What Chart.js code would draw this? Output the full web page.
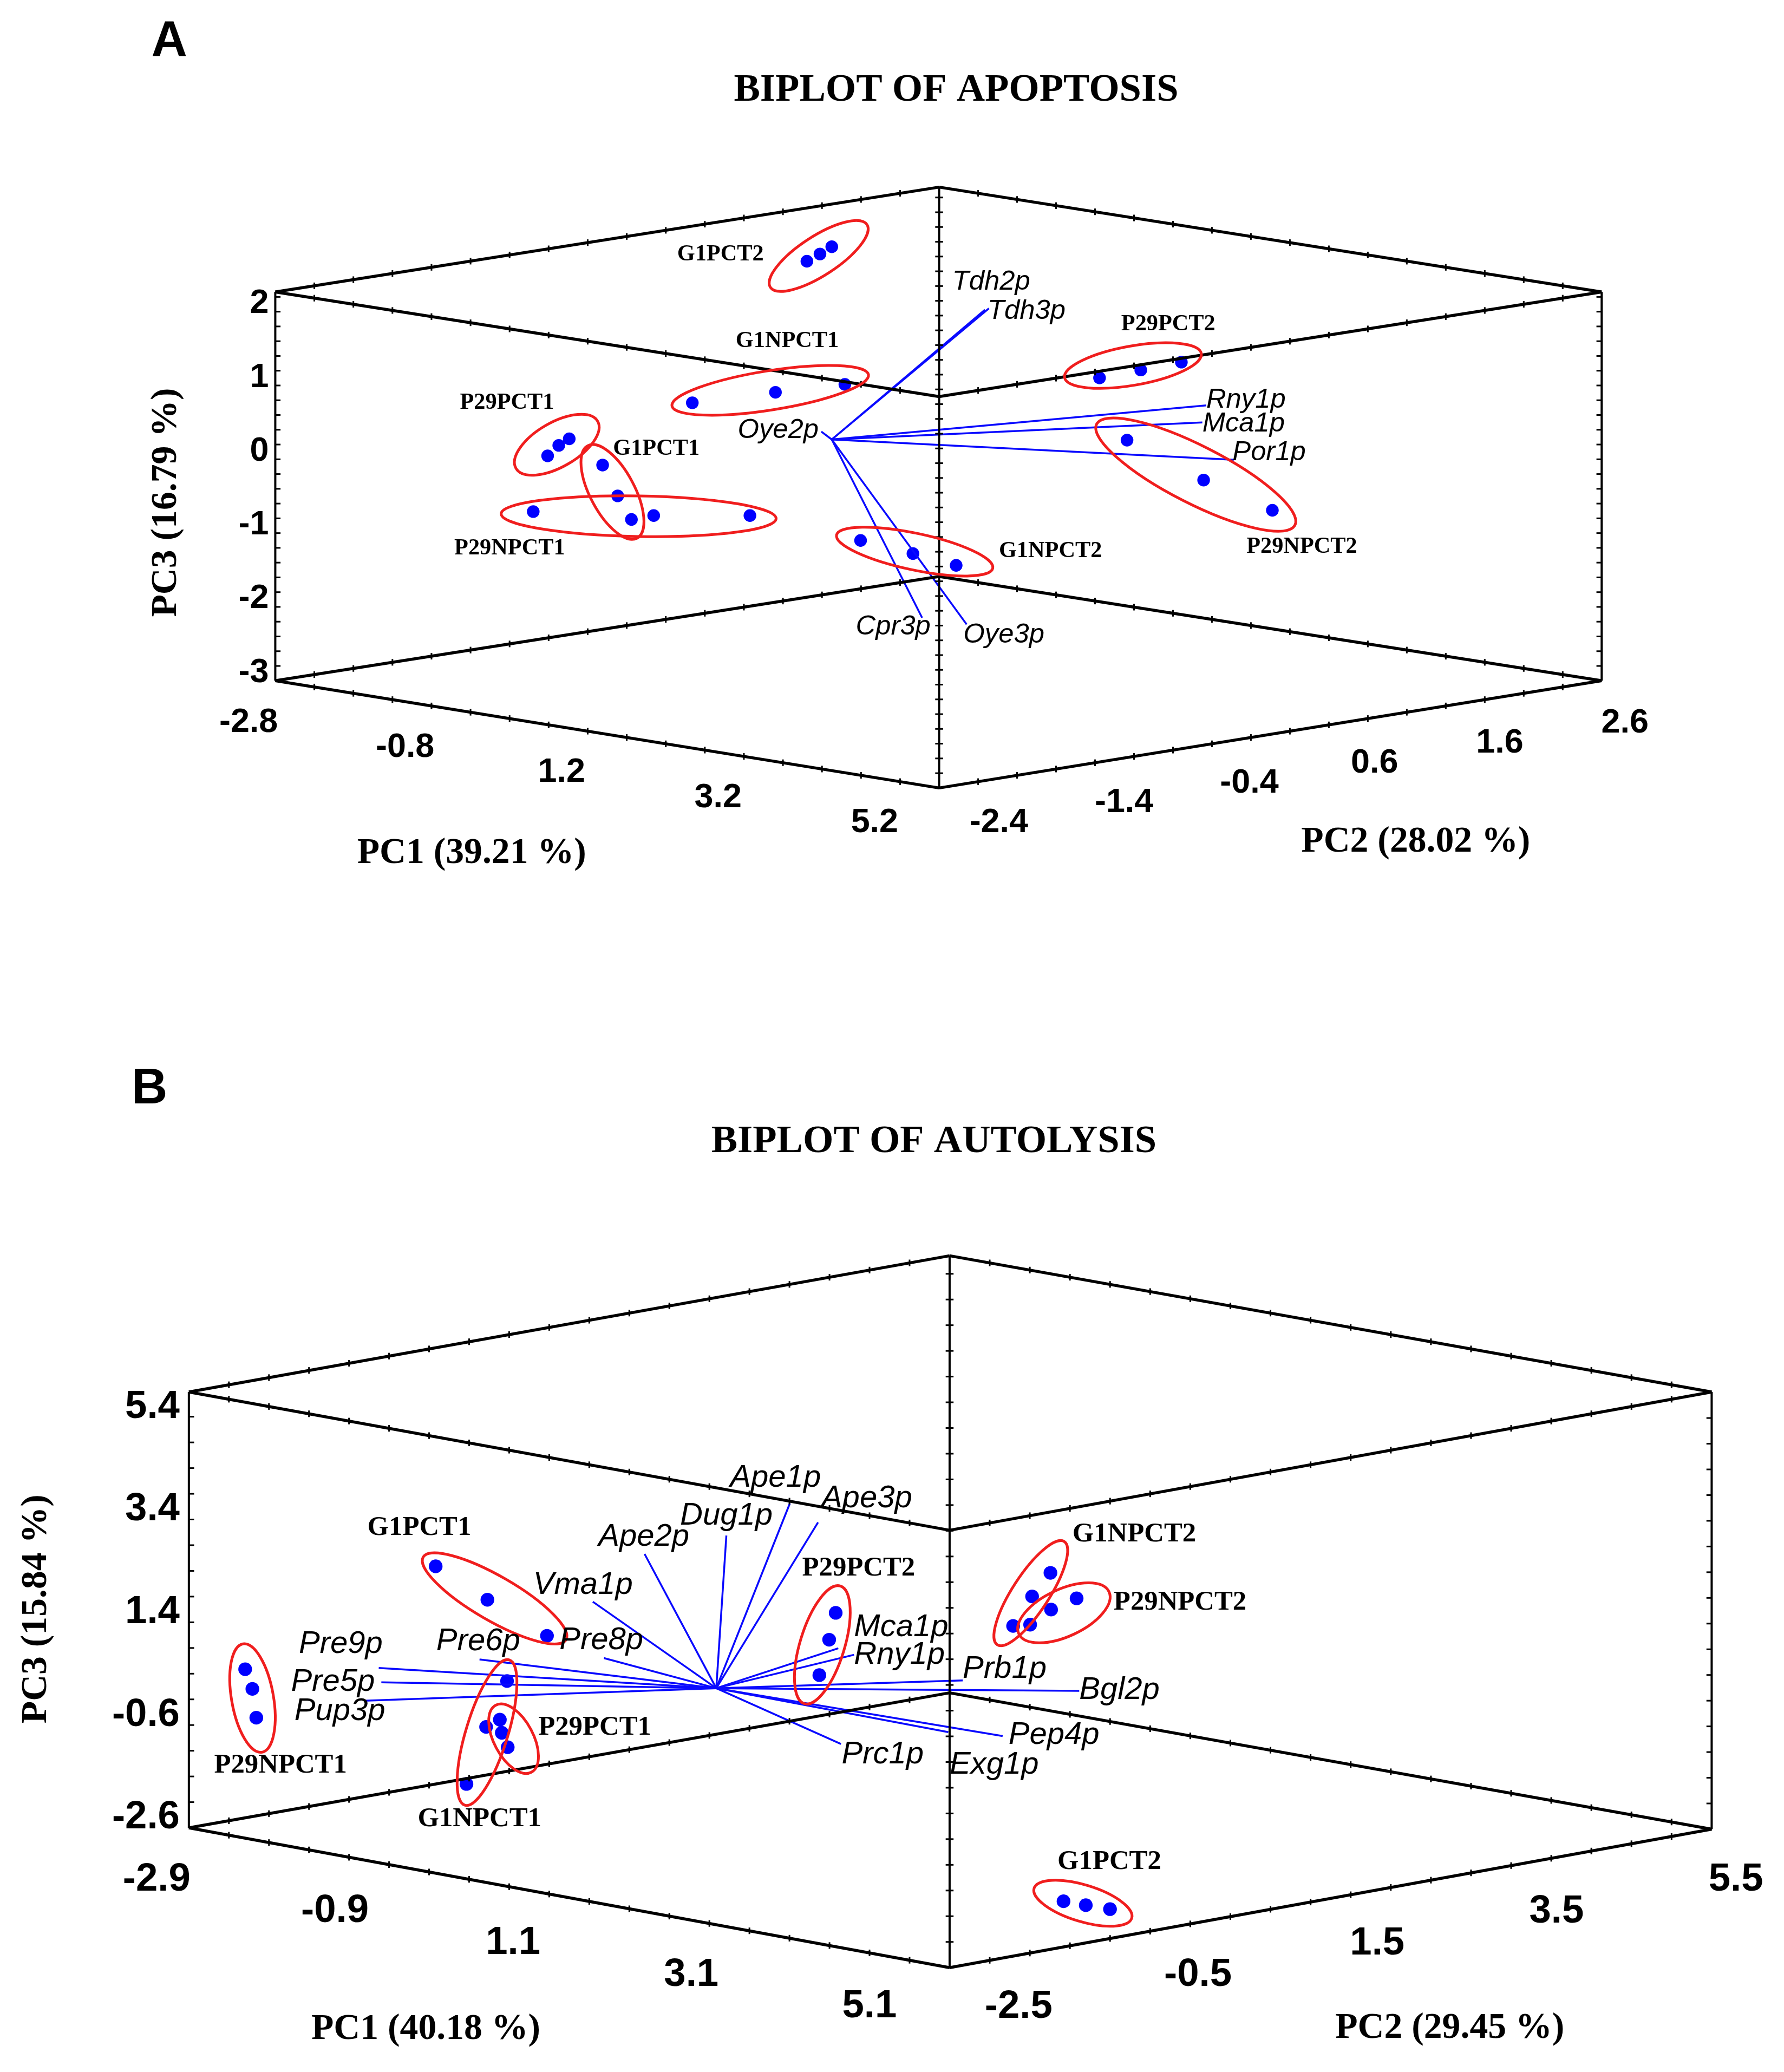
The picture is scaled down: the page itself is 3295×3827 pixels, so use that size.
<!DOCTYPE html>
<html>
<head>
<meta charset="utf-8">
<script src="https://cdn.jsdelivr.net/npm/chart.js@4.4.1/dist/chart.umd.min.js"></script>
<style>
  html, body { margin: 0; padding: 0; background: #fff; }
  canvas { display: block; }
</style>
</head>
<body>
<canvas id="biplot" width="3295" height="3827"></canvas>
<script>
// Both biplots share one scatter chart. Its x/y scales are the flat projection
// of the Statgraphics 3D box (figure units, 1352 x 1570).

// ---------- A : apoptosis ----------
const groupsA = ['G1PCT2', 'G1NPCT1', 'P29PCT1', 'G1PCT1', 'P29NPCT1', 'G1NPCT2', 'P29PCT2', 'P29NPCT2'];
const scoresAx = [
  [611, 621, 630],
  [523.5, 587, 640],
  [413, 421.5, 429.5],
  [455, 466.5, 477],
  [402, 494, 567.5],
  [652, 692, 725],
  [834.5, 866, 897],
  [855.5, 914, 966.5]
];
const scoresAy = [
  [194, 188.5, 183],
  [302, 294, 288],
  [342.5, 334.5, 329.5],
  [349.5, 373, 391],
  [385, 388, 388],
  [407, 417, 426],
  [283, 277, 271],
  [330.5, 361, 384]
];
const genesA = ['Tdh2p', 'Tdh3p', 'Rny1p', 'Mca1p', 'Por1p', 'Oye2p', 'Cpr3p', 'Oye3p'];
const loadAx = [747, 750, 916, 913, 937, 622, 699, 733];
const loadAy = [231, 230, 304, 317, 345.5, 324, 466, 471];
const pc1TicksA = ['-2.8', '-0.8', '1.2', '3.2', '5.2'];
const pc2TicksA = ['-2.4', '-1.4', '-0.4', '0.6', '1.6', '2.6'];
const pc3TicksA = ['2', '1', '0', '-1', '-2', '-3'];

// ---------- B : autolysis ----------
const groupsB = ['G1PCT1', 'P29NPCT1', 'G1NPCT1', 'P29PCT1', 'P29PCT2', 'G1NPCT2', 'P29NPCT2', 'G1PCT2'];
const scoresBx = [
  [327.5, 367, 412.5],
  [182, 187.5, 190.5],
  [382, 366, 351],
  [376.5, 378, 382.5],
  [633, 628, 620.5],
  [797, 783, 768.5],
  [781.5, 797.5, 817],
  [807, 824, 842.5]
];
const scoresBy = [
  [1189.5, 1215, 1242.5],
  [1268, 1283, 1305],
  [1277, 1312, 1355.5],
  [1306.5, 1316.5, 1327.5],
  [1225, 1245.5, 1272.5],
  [1194.5, 1212.5, 1235],
  [1234, 1222.5, 1214],
  [1445, 1448, 1451]
];
const genesB = ['Ape1p', 'Ape3p', 'Dug1p', 'Ape2p', 'Vma1p', 'Pre8p', 'Pre6p', 'Pre9p', 'Pre5p',
                'Pup3p', 'Mca1p', 'Rny1p', 'Prb1p', 'Bgl2p', 'Pep4p', 'Exg1p', 'Prc1p'];
const loadBx = [598, 619.5, 549.5, 487, 447.5, 456, 361, 284, 286, 273, 635, 647, 730, 819, 760.5, 719, 637];
const loadBy = [1141.5, 1156, 1166, 1180, 1216.5, 1259.5, 1260.5, 1267, 1278, 1292, 1252, 1257, 1276.5, 1284.5, 1319, 1316, 1325];
const pc1TicksB = ['-2.9', '-0.9', '1.1', '3.1', '5.1'];
const pc2TicksB = ['-2.5', '-0.5', '1.5', '3.5', '5.5'];
const pc3TicksB = ['5.4', '3.4', '1.4', '-0.6', '-2.6'];

// ---------- layout (frame, label anchors, ellipses) ----------
const layoutA = {
  letter: ['A', 124, 27], title: ['BIPLOT OF APOPTOSIS', 725, 64],
  axisTitles: [['PC1 (39.21 %)', 355, 646], ['PC2 (28.02 %)', 1076, 637], ['PC3 (16.79 %)', 122, 378]],
  box: { xL: 205, yLt: 217.5, yLb: 514, xF: 712, yFt: 297.3, yFb: 595.8, yKt: 137.5, yKb: 434.5, xR: 1218, yRt: 217.5, yRb: 514 },
  vStep: 11.26, origin: [630, 330],
  tickPos: { pc1: [[184.6, 545.8], [662.7, 622.4]], pc2: [[757.6, 622.4], [1235.8, 546.5]], pc3: [[200, 226.5], [200, 507.8]] },
  fonts: { tick: 26, gene: 21, group: 17.5 }, pointR: 4.8,
  geneLab: [[722, 210, 'left'], [749, 232, 'left'], [916, 300, 'left'], [913, 318, 'left'], [936, 340, 'left'],
            [620, 323, 'right'], [705.5, 473, 'right'], [730.5, 479, 'left']],
  groupLab: [[545, 189], [596, 255], [382, 302], [496, 337], [384, 413], [797, 415], [887, 242], [989, 412]],
  ellipses: [[620, 190, 44, 15, -33], [583, 292.5, 76, 15, -9], [420, 334, 36, 17, -30], [462.5, 370, 40, 17, 62],
             [482.5, 388.5, 105, 15.5, 1], [693.3, 415.5, 61, 14, 12], [860, 273.6, 53, 15, -10], [908, 356.8, 85, 22, 27]]
};
const layoutB = {
  letter: ['B', 109, 826], title: ['BIPLOT OF AUTOLYSIS', 708, 866],
  axisTitles: [['PC1 (40.18 %)', 320, 1543], ['PC2 (29.45 %)', 1102, 1542], ['PC3 (15.84 %)', 22.5, 1222]],
  box: { xL: 139, yLt: 1056.5, yLb: 1389, xF: 720, yFt: 1162, yFb: 1495.6, yKt: 952.6, yKb: 1286, xR: 1302, yRt: 1056.5, yRb: 1390 },
  vStep: 19.6, origin: [541.8, 1282.5],
  tickPos: { pc1: [[114.4, 1428.5], [658.8, 1525.4]], pc2: [[772.7, 1525.7], [1320.5, 1428.7]], pc3: [[132, 1068], [132, 1381.2]] },
  fonts: { tick: 30, gene: 24, group: 21 }, pointR: 5.2,
  geneLab: [[587, 1122, 'center'], [622, 1138, 'left'], [549.5, 1151, 'center'], [486.5, 1167, 'center'],
            [440, 1204, 'center'], [454, 1246, 'center'], [360, 1247, 'center'], [287, 1249, 'right'],
            [281, 1278, 'right'], [289, 1300, 'right'], [647, 1236, 'left'], [647, 1257, 'left'],
            [730, 1268, 'left'], [819, 1284, 'left'], [765, 1318.5, 'left'], [720, 1341, 'left'], [637.5, 1333, 'left']],
  groupLab: [[315, 1160], [209, 1341.5], [361, 1382.5], [449, 1312.5], [650.5, 1191], [861, 1165], [896, 1217], [842, 1415]],
  ellipses: [[372.5, 1214, 63, 17, 30], [187.6, 1290, 42, 16, 80], [366.7, 1316.3, 58, 16, -73], [387, 1321, 29, 15, 62],
             [622.8, 1249.4, 47, 17, -73], [782, 1210, 47, 14, -57], [807.3, 1225, 38, 18, -25], [821.8, 1446.5, 39, 14, 17]]
};

const panels = [
  { groups: groupsA, sx: scoresAx, sy: scoresAy, genes: genesA, lx: loadAx, ly: loadAy,
    ticks: { pc1: pc1TicksA, pc2: pc2TicksA, pc3: pc3TicksA }, lay: layoutA },
  { groups: groupsB, sx: scoresBx, sy: scoresBy, genes: genesB, lx: loadBx, ly: loadBy,
    ticks: { pc1: pc1TicksB, pc2: pc2TicksB, pc3: pc3TicksB }, lay: layoutB }
];

const SERIF = '"Liberation Serif", "Times New Roman", serif';
const SANS = '"Liberation Sans", Arial, sans-serif';

function boxEdges(b) {
  const c = {
    Lt: [b.xL, b.yLt], Lb: [b.xL, b.yLb], Rt: [b.xR, b.yRt], Rb: [b.xR, b.yRb],
    Ft: [b.xF, b.yFt], Fb: [b.xF, b.yFb], Kt: [b.xF, b.yKt], Kb: [b.xF, b.yKb]
  };
  return [['Lt', 'Lb'], ['Rt', 'Rb'], ['Kt', 'Fb'],
          ['Lt', 'Ft'], ['Ft', 'Rt'], ['Lt', 'Kt'], ['Kt', 'Rt'],
          ['Lb', 'Fb'], ['Fb', 'Rb'], ['Lb', 'Kb'], ['Kb', 'Rb']].map(([a, z]) => [c[a], c[z]]);
}

const datasets = [];
panels.forEach(p => {
  boxEdges(p.lay.box).forEach(([a, z], i) => datasets.push({
    data: [{ x: a[0], y: a[1] }, { x: z[0], y: z[1] }],
    showLine: true, borderColor: '#000', borderWidth: i < 3 ? 4 : 5.5, pointRadius: 0
  }));
  p.genes.forEach((g, i) => datasets.push({
    label: g,
    data: [{ x: p.lay.origin[0], y: p.lay.origin[1] }, { x: p.lx[i], y: p.ly[i] }],
    showLine: true, borderColor: '#0a0aff', borderWidth: 3.5, pointRadius: 0
  }));
});
panels.forEach(p => {
  p.groups.forEach((g, i) => datasets.push({
    label: g,
    data: p.sx[i].map((v, j) => ({ x: v, y: p.sy[i][j] })),
    pointRadius: p.lay.pointR * 2.437, pointBackgroundColor: '#0000ff', pointBorderWidth: 0
  }));
});

const figurePlugin = {
  id: 'figure',
  afterDatasetsDraw(chart) {
    const { ctx, scales: { x, y } } = chart;
    const k = x.getPixelForValue(1) - x.getPixelForValue(0);
    const px = v => x.getPixelForValue(v);
    const py = v => y.getPixelForValue(v);
    const text = (s, tx, ty, font, align, rot) => {
      ctx.save();
      ctx.translate(px(tx), py(ty));
      if (rot) ctx.rotate(rot);
      ctx.font = font;
      ctx.textAlign = align || 'center';
      ctx.textBaseline = 'middle';
      ctx.fillStyle = '#000';
      ctx.fillText(s, 0, 0);
      ctx.restore();
    };
    const lerp = (a, b, t) => [a[0] + (b[0] - a[0]) * t, a[1] + (b[1] - a[1]) * t];

    panels.forEach(p => {
      const L = p.lay, b = L.box;
      ctx.save();
      // minor ticks on the box frame
      ctx.strokeStyle = '#000';
      ctx.lineWidth = 3;
      const vEdges = [[b.xL, b.yLt, b.yLb, 1], [b.xR, b.yRt, b.yRb, -1], [b.xF, b.yKt, b.yFb, 0]];
      vEdges.forEach(([ex, y0, y1, dir]) => {
        for (let yy = y1; yy >= y0 - 0.1; yy -= L.vStep) {
          ctx.beginPath();
          const a = dir === 0 ? -3 : 0, z = dir === 0 ? 3 : 4 * dir;
          ctx.moveTo(px(ex + a), py(yy));
          ctx.lineTo(px(ex + z), py(yy));
          ctx.stroke();
        }
      });
      boxEdges(b).slice(3).forEach(([a, z]) => {
        const n = Math.round(Math.abs(z[0] - a[0]) / 30);
        for (let i = 1; i < n; i++) {
          const q = lerp(a, z, i / n);
          ctx.beginPath();
          ctx.moveTo(px(q[0]), py(q[1] - 2.5));
          ctx.lineTo(px(q[0]), py(q[1] + 2.5));
          ctx.stroke();
        }
      });

      // group ellipses
      ctx.strokeStyle = '#f01e1e';
      ctx.lineWidth = 5;
      L.ellipses.forEach(([cx, cy, ra, rb, deg]) => {
        ctx.beginPath();
        ctx.ellipse(px(cx), py(cy), ra * k, rb * k, deg * Math.PI / 180, 0, 2 * Math.PI);
        ctx.stroke();
      });
      ctx.restore();

      // texts
      text(L.letter[0], L.letter[1], L.letter[2], `bold ${38 * k}px ${SANS}`);
      text(L.title[0], L.title[1], L.title[2], `bold ${30 * k}px ${SERIF}`);
      L.axisTitles.forEach(([s, tx, ty], i) =>
        text(s, tx, ty, `bold ${28 * k}px ${SERIF}`, 'center', i === 2 ? -Math.PI / 2 : 0));
      ['pc1', 'pc2', 'pc3'].forEach(ax => {
        const labs = p.ticks[ax], [a, z] = L.tickPos[ax];
        labs.forEach((s, i) => {
          const q = lerp(a, z, i / (labs.length - 1));
          text(s, q[0], q[1], `bold ${L.fonts.tick * k}px ${SANS}`, ax === 'pc3' ? 'right' : 'center');
        });
      });
      p.genes.forEach((g, i) => {
        const [tx, ty, al] = L.geneLab[i];
        text(g, tx, ty, `italic ${L.fonts.gene * k}px ${SANS}`, al);
      });
      p.groups.forEach((g, i) => {
        const [tx, ty] = L.groupLab[i];
        text(g, tx, ty, `bold ${L.fonts.group * k}px ${SERIF}`);
      });
    });
  }
};

new Chart(document.getElementById('biplot'), {
  type: 'scatter',
  data: { datasets },
  options: {
    responsive: false,
    animation: false,
    devicePixelRatio: 1,
    events: [],
    layout: { padding: 0 },
    plugins: { legend: { display: false }, tooltip: { enabled: false } },
    scales: {
      x: { type: 'linear', min: 0, max: 1352, display: false },
      y: { type: 'linear', min: 0, max: 1570, reverse: true, display: false }
    }
  },
  plugins: [figurePlugin]
});
</script>
</body>
</html>
